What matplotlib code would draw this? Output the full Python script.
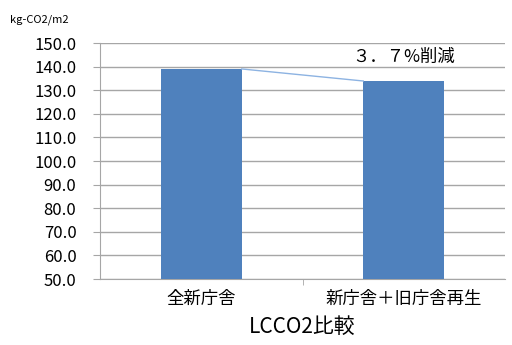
import numpy as np
import matplotlib.pyplot as plt

plt.rcParams['font.family'] = ['Noto Sans CJK JP', 'DejaVu Sans']

categories = ["全新庁舎", "新庁舎＋旧庁舎再生"]
values = [139.0, 133.9]
reduction_label = "３．７%削減"

fig = plt.figure(figsize=(5.12, 3.45), dpi=100)
ax = fig.add_axes([100 / 512, 66 / 345, 405 / 512, 236 / 345])

x = np.arange(len(categories))
width = 0.4
bars = ax.bar(x, values, width=width, color="#4F81BD", zorder=3)

# connector between bar tops
ax.plot([x[0] + width / 2, x[1] - width / 2], values, color="#8DB3E2", lw=1, zorder=3)

ax.set_ylim(50, 150)
ax.set_xlim(-0.5, 1.5)
ax.set_yticks(np.arange(50, 151, 10))
ax.set_yticklabels([f"{v:.1f}" for v in np.arange(50, 151, 10)], fontsize=12)
ax.set_xticks(x)
ax.set_xticklabels(categories, fontsize=12.5)
ax.set_xticks([0.5], minor=True)
ax.tick_params(axis="x", which="major", length=0, pad=8)
ax.tick_params(axis="x", which="minor", length=4, color="#A6A6A6")
ax.tick_params(axis="y", length=5, color="#A6A6A6", pad=12)

ax.grid(axis="y", color="#A6A6A6", lw=1, zorder=0)
for s in ["top", "right"]:
    ax.spines[s].set_visible(False)
ax.spines["left"].set_color("#A6A6A6")
ax.spines["bottom"].set_color("#A6A6A6")

ax.set_xlabel("LCCO2比較", fontsize=15, labelpad=6)
ax.text(1.0, 144, reduction_label, ha="center", va="center", fontsize=12.5)
fig.text(10 / 512, 1 - 20 / 345, "kg-CO2/m2", fontsize=8, va="center")

fig.savefig("out.png", dpi=100)
